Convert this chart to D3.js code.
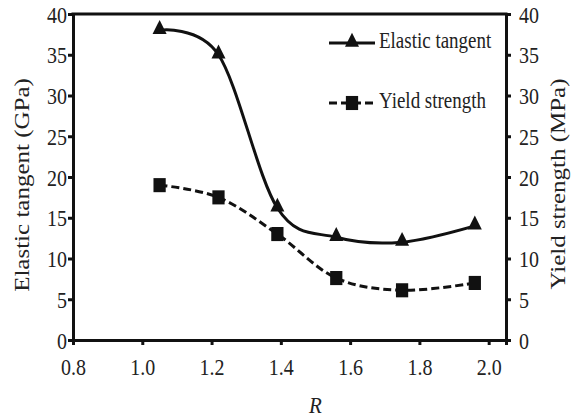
<!DOCTYPE html>
<html>
<head>
<meta charset="utf-8">
<script src="https://cdn.jsdelivr.net/npm/d3@7"></script>
<style>
  body { margin: 0; background: #fff; }
  text { font-family: "Liberation Serif", "Times New Roman", serif; fill: #222; }
</style>
</head>
<body>
<svg id="chart" width="574" height="418"></svg>
<script>
const R_VALUES = [1.05, 1.22, 1.39, 1.56, 1.75, 1.96];
const ELASTIC = [38, 35, 16.2, 12.6, 12, 14];
const YIELD = [19, 17.5, 13, 7.6, 6.1, 7];
const X_TICKS = [0.8, 1.0, 1.2, 1.4, 1.6, 1.8, 2.0];
const Y_TICKS = [0, 5, 10, 15, 20, 25, 30, 35, 40];

const M = { left: 73, right: 506, top: 14, bottom: 340 };
const SY = 1.18; // text looks stretched vertically in the original

const svg = d3.select('#chart');

const x = d3.scaleLinear().domain([0.8, 2.05]).range([M.left, M.right]);
const yL = d3.scaleLinear().domain([0, 40]).range([M.bottom, M.top]);
const yR = d3.scaleLinear().domain([0, 40]).range([M.bottom, M.top]);

// axes
const axisB = svg.append('g').attr('transform', `translate(0,${M.bottom})`)
  .call(d3.axisBottom(x).tickValues(X_TICKS).tickFormat(d3.format('.1f')).tickSizeOuter(0).tickSize(5));
const axisL = svg.append('g').attr('transform', `translate(${M.left},0)`)
  .call(d3.axisLeft(yL).tickValues(Y_TICKS).tickSizeOuter(0).tickSize(5));
const axisR = svg.append('g').attr('transform', `translate(${M.right},0)`)
  .call(d3.axisRight(yR).tickValues(Y_TICKS).tickSizeOuter(0).tickSize(5));

[axisB, axisL, axisR].forEach(g => {
  g.selectAll('.domain').attr('stroke', '#111').attr('stroke-width', 3);
  g.selectAll('.tick line').attr('stroke', '#111').attr('stroke-width', 3);
  g.selectAll('.tick text').attr('font-size', 20).attr('fill', '#222')
    .attr('font-family', '"Liberation Serif", serif')
    .attr('x', 0).attr('y', 0);
});
axisB.selectAll('.tick text').attr('dy', 0).attr('transform', `translate(0,35) scale(1,${SY})`);
axisL.selectAll('.tick text').attr('dy', '0.34em').attr('transform', `translate(-6,0) scale(1,${SY})`);
axisR.selectAll('.tick text').attr('dy', '0.34em').attr('transform', `translate(13,0) scale(1,${SY})`);

// top frame line
svg.append('line')
  .attr('x1', M.left - 1.5).attr('x2', M.right + 1.5)
  .attr('y1', M.top).attr('y2', M.top)
  .attr('stroke', '#111').attr('stroke-width', 3);

// axis titles
svg.append('text')
  .attr('transform', `translate(24,185) scale(1,1.25) rotate(-90)`)
  .attr('text-anchor', 'middle').attr('dominant-baseline', 'middle')
  .attr('font-size', 20).text('Elastic tangent (GPa)');
svg.append('text')
  .attr('transform', `translate(560,184) scale(1,1.25) rotate(-90)`)
  .attr('text-anchor', 'middle').attr('dominant-baseline', 'middle')
  .attr('font-size', 20).text('Yield strength (MPa)');
svg.append('text')
  .attr('transform', `translate(${x(1.5)},413) scale(1,1.05)`)
  .attr('text-anchor', 'middle').attr('font-size', 21).attr('font-style', 'italic').text('R');

// lines
const line = (yS, vals) => d3.line()
  .x((d, i) => x(R_VALUES[i]))
  .y(d => yS(d))
  .curve(d3.curveCatmullRom.alpha(0))(vals);

svg.append('path').attr('d', line(yL, ELASTIC))
  .attr('fill', 'none').attr('stroke', '#111').attr('stroke-width', 3);
svg.append('path').attr('d', line(yR, YIELD))
  .attr('fill', 'none').attr('stroke', '#111').attr('stroke-width', 3)
  .attr('stroke-dasharray', '8,4');

const tri = d3.symbol().type(d3.symbolTriangle).size(85);
const sq = d3.symbol().type(d3.symbolSquare).size(150);

svg.selectAll('.tri').data(ELASTIC).enter().append('path')
  .attr('class', 'tri').attr('d', tri)
  .attr('transform', (d, i) => `translate(${x(R_VALUES[i])},${yL(d) - 1}) scale(1,1.15)`)
  .attr('fill', '#111');
svg.selectAll('.sq').data(YIELD).enter().append('path')
  .attr('class', 'sq').attr('d', sq)
  .attr('transform', (d, i) => `translate(${x(R_VALUES[i])},${yR(d)}) scale(1,1.15)`)
  .attr('fill', '#111');

// legend
const leg = svg.append('g');
const legItems = [
  { label: 'Elastic tangent', y: 43, sym: tri, dash: null },
  { label: 'Yield strength', y: 103, sym: sq, dash: '8,4' }
];
legItems.forEach(it => {
  leg.append('line').attr('x1', 329).attr('x2', 375).attr('y1', it.y).attr('y2', it.y)
    .attr('stroke', '#111').attr('stroke-width', 3)
    .attr('stroke-dasharray', it.dash);
  leg.append('path').attr('d', it.sym)
    .attr('transform', `translate(352,${it.y - (it.dash ? 0 : 1)}) scale(1,1.15)`).attr('fill', '#111');
  leg.append('text').attr('transform', `translate(379,${it.y}) scale(1,1.2)`)
    .attr('dominant-baseline', 'middle')
    .attr('font-size', 19).text(it.label);
});
</script>
</body>
</html>
